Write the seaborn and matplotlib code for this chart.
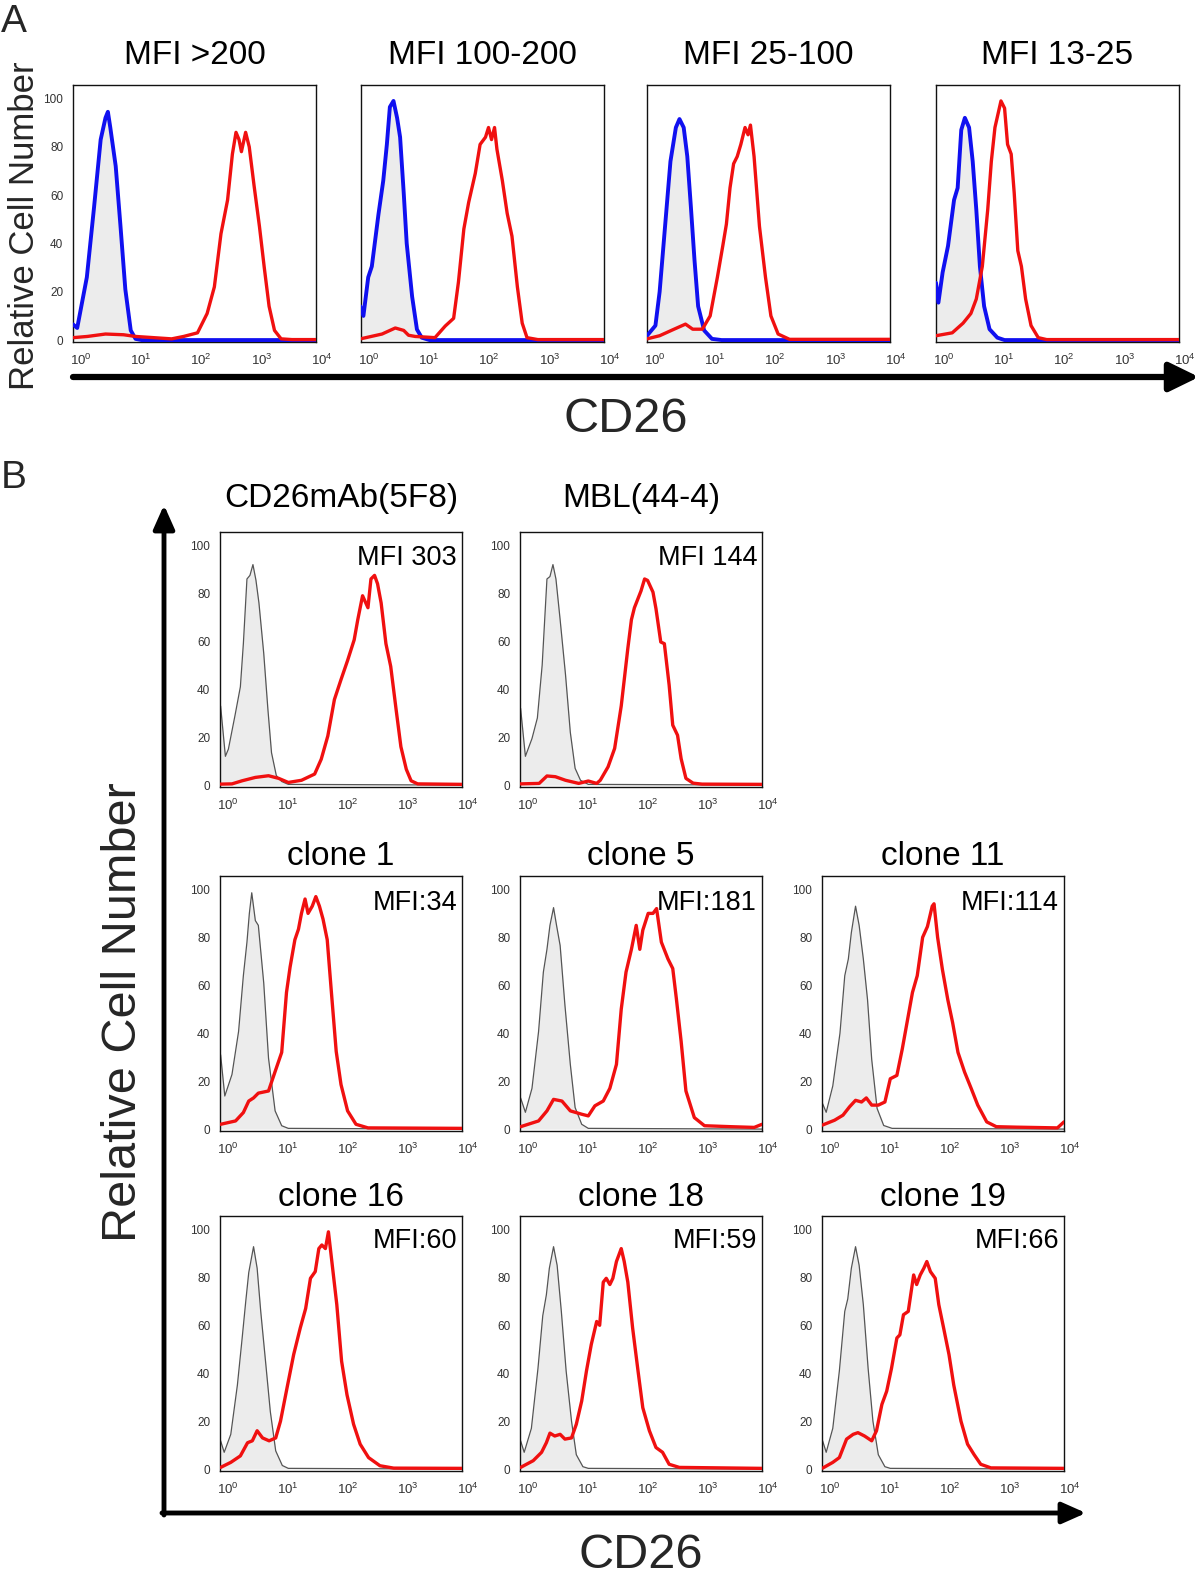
import numpy as np
import matplotlib
matplotlib.use("Agg")
import matplotlib.pyplot as plt
import seaborn as sns
from matplotlib.ticker import FixedLocator, LogLocator, NullFormatter, MultipleLocator
from matplotlib.transforms import ScaledTranslation

sns.set_theme(style="white")
plt.rcParams['font.family'] = ['Liberation Sans', 'DejaVu Sans']
plt.rcParams['mathtext.fontset'] = 'custom'
plt.rcParams['mathtext.rm'] = 'Liberation Sans'

# ---------------- Panel A data (x as log10 intensity) ----------------
a_titles = ["MFI >200", "MFI 100-200", "MFI 25-100", "MFI 13-25"]

a1_blue_lx = [-0.04, 0.03, 0.19, 0.31, 0.42, 0.50, 0.54, 0.58, 0.67, 0.75, 0.83, 0.92, 1.00, 1.10, 4.0]
a1_blue_y = [6.5, 5, 26, 55, 83, 92, 94.5, 88, 72, 47, 21, 4, 0.5, 0, 0]
a1_red_lx = [-0.04, 0.2, 0.5, 0.8, 1.0, 1.3, 1.6, 1.8, 2.03, 2.19, 2.31, 2.42, 2.53, 2.61, 2.67, 2.72, 2.76,
             2.83, 2.89, 2.97, 3.06, 3.14, 3.22, 3.31, 3.42, 3.6, 4.0]
a1_red_y = [1, 1.5, 2.5, 2.2, 1.5, 1, 0.5, 1.5, 3, 11, 22, 44, 58, 77, 86, 83, 78, 86, 80, 64, 47, 30, 14, 4,
            0.5, 0.2, 0.2]

a2_blue_lx = [-0.05, 0.0, 0.08, 0.14, 0.25, 0.33, 0.39, 0.44, 0.50, 0.56, 0.61, 0.67, 0.72, 0.81, 0.89, 0.97, 1.1, 4.0]
a2_blue_y = [14, 10, 26, 30.5, 52, 66, 81, 96.5, 99, 92, 84, 61, 40, 18, 4.4, 1, 0, 0]
a2_red_lx = [-0.05, 0.31, 0.53, 0.67, 0.75, 0.86, 1.19, 1.36, 1.5, 1.58, 1.67, 1.75, 1.86, 1.94, 2.03, 2.08, 2.13,
             2.18, 2.22, 2.31, 2.39, 2.47, 2.56, 2.64, 2.72, 2.9, 4.0]
a2_red_y = [0.5, 2.5, 5, 4, 2, 1.5, 1, 5.8, 9, 24, 46, 57, 69, 81, 84, 88, 83, 88, 79, 66, 52.5, 43, 22, 7, 1,
            0.2, 0.2]

a3_blue_lx = [-0.04, 0.1, 0.17, 0.26, 0.35, 0.44, 0.5, 0.57, 0.63, 0.69, 0.75, 0.81, 0.91, 1.04, 1.2, 4.0]
a3_blue_y = [1.8, 6, 20, 47, 74, 88, 91.5, 88, 76, 55, 33, 14, 4, 0.5, 0, 0]
a3_red_lx = [-0.04, 0.17, 0.41, 0.6, 0.72, 0.88, 1.01, 1.13, 1.22, 1.28, 1.34, 1.4, 1.46, 1.52, 1.59, 1.64, 1.68,
             1.74, 1.83, 1.93, 2.02, 2.14, 2.33, 4.0]
a3_red_y = [0.5, 1.8, 4.5, 6.6, 4.5, 4.5, 10, 26, 39, 48, 63, 73, 76, 81, 88, 85, 89, 76, 47, 26, 10, 2.5, 0.3, 0.3]

a4_blue_lx = [-0.04, 0.0, 0.07, 0.16, 0.26, 0.32, 0.38, 0.44, 0.51, 0.57, 0.63, 0.69, 0.76, 0.85, 0.98, 1.1, 4.0]
a4_blue_y = [23.7, 15.5, 28, 39, 58, 63, 87, 92, 88, 74, 54, 30.5, 14, 4.5, 1, 0, 0]
a4_red_lx = [-0.04, 0.23, 0.41, 0.54, 0.63, 0.73, 0.82, 0.88, 0.94, 1.04, 1.1, 1.15, 1.21, 1.26, 1.32, 1.38, 1.45,
             1.54, 1.66, 1.8, 4.0]
a4_red_y = [1.8, 3, 7, 11, 17, 30.5, 54, 74, 88, 99, 96, 81, 77, 61, 37, 30.5, 17, 6, 1, 0.2, 0.2]

# ---------------- Panel B data ----------------
b_titles = ["CD26mAb(5F8)", "MBL(44-4)", "clone 1", "clone 5", "clone 11", "clone 16", "clone 18", "clone 19"]
b_mfi = ["MFI 303", "MFI 144", "MFI:34", "MFI:181", "MFI:114", "MFI:60", "MFI:59", "MFI:66"]

b1_gray_lx = [-0.03, 0.05, 0.1, 0.21, 0.3, 0.35, 0.41, 0.46, 0.51, 0.56, 0.61, 0.69, 0.76, 0.82, 0.9, 0.99, 1.1, 4.0]
b1_gray_y = [33, 12, 15, 29, 41, 59, 86, 87.5, 92, 85.5, 76, 55, 31.5, 13.5, 4, 1.5, 0.3, 0]
b1_red_lx = [-0.03, 0.16, 0.33, 0.55, 0.77, 0.94, 1.1, 1.32, 1.54, 1.65, 1.76, 1.87, 1.98, 2.09, 2.2, 2.26, 2.34,
             2.43, 2.48, 2.54, 2.59, 2.65, 2.73, 2.81, 2.9, 2.98, 3.07, 3.15, 3.26, 4.0]
b1_red_y = [0.4, 0.5, 1.8, 3.2, 3.9, 2.8, 1.1, 2, 4.6, 10.8, 20.5, 35.7, 44, 52, 60.6, 69, 79, 74, 86, 87.5, 84,
            76, 59, 49.5, 31.5, 16, 6.6, 1.8, 0.5, 0.3]

b2_gray_lx = [-0.03, 0.05, 0.16, 0.25, 0.33, 0.41, 0.46, 0.51, 0.56, 0.63, 0.72, 0.8, 0.88, 0.97, 1.1, 4.0]
b2_gray_y = [32, 12, 19.4, 28, 50, 86, 87, 92, 86, 69, 46, 22, 7, 2, 0.3, 0]
b2_red_lx = [-0.03, 0.28, 0.41, 0.55, 0.72, 0.94, 1.1, 1.24, 1.3, 1.43, 1.54, 1.65, 1.76, 1.82, 1.87, 1.98, 2.04,
             2.09, 2.18, 2.23, 2.31, 2.37, 2.45, 2.51, 2.59, 2.65, 2.73, 2.85, 3.0, 4.0]
b2_red_y = [0.5, 0.7, 3.8, 3.5, 2, 0.7, 1.7, 0.7, 2, 7.6, 15.3, 33, 57, 69, 74, 81, 86, 85.4, 80.5, 73.6, 59.7,
            59, 41.7, 25, 20.8, 11, 2.8, 0.8, 0.4, 0.3]

c1_gray_lx = [-0.03, 0.04, 0.16, 0.27, 0.35, 0.41, 0.45, 0.49, 0.55, 0.6, 0.69, 0.77, 0.88, 0.99, 1.1, 4.0]
c1_gray_y = [31, 13.8, 22.8, 40.7, 64, 78, 90, 98.6, 87, 85, 61, 29.6, 7.6, 1.4, 0.3, 0]
c1_red_lx = [-0.03, 0.22, 0.35, 0.44, 0.52, 0.6, 0.77, 0.88, 0.99, 1.07, 1.13, 1.21, 1.27, 1.32, 1.38, 1.43, 1.5,
             1.56, 1.62, 1.68, 1.75, 1.82, 1.9, 1.98, 2.09, 2.23, 2.43, 4.0]
c1_red_y = [2, 3.4, 6.9, 11.7, 13, 15, 15.9, 24, 32, 57, 67.6, 79, 83.4, 90, 96, 90, 93, 97, 93, 87.6, 79, 57,
            32.4, 18.6, 7.6, 2, 0.5, 0.3]

c5_gray_lx = [-0.03, 0.05, 0.16, 0.27, 0.35, 0.41, 0.46, 0.52, 0.57, 0.63, 0.71, 0.8, 0.88, 0.99, 1.1, 4.0]
c5_gray_y = [13, 7, 17, 40.7, 65.5, 75, 85, 92.4, 85, 76.6, 51.7, 27, 9, 2, 0.3, 0]
c5_red_lx = [-0.03, 0.27, 0.41, 0.52, 0.66, 0.8, 0.99, 1.1, 1.21, 1.35, 1.46, 1.57, 1.65, 1.73, 1.82, 1.9, 1.96,
             2.01, 2.1, 2.18, 2.24, 2.32, 2.43, 2.51, 2.57, 2.65, 2.73, 2.87, 3.04, 3.48, 3.87, 4.0]
c5_red_y = [1, 3.4, 7.6, 12.4, 11.7, 7.6, 6.2, 5.5, 9.7, 11.7, 17, 27, 50, 65.5, 75, 85, 75, 83, 90, 90, 92, 78,
            71, 67, 54.5, 36.6, 15.9, 4.8, 1.4, 1, 0.7, 2]

c11_gray_lx = [-0.03, 0.03, 0.14, 0.26, 0.34, 0.4, 0.45, 0.52, 0.58, 0.65, 0.72, 0.79, 0.88, 0.99, 1.13, 4.0]
c11_gray_y = [10.6, 7, 18, 40, 64, 71, 82, 93, 85, 71, 54, 29, 8.6, 1.5, 0.3, 0]
c11_red_lx = [-0.03, 0.17, 0.31, 0.42, 0.52, 0.62, 0.7, 0.79, 0.9, 1.01, 1.1, 1.21, 1.3, 1.38, 1.47, 1.55, 1.64,
              1.72, 1.8, 1.83, 1.89, 1.97, 2.06, 2.14, 2.23, 2.34, 2.45, 2.56, 2.71, 2.87, 3.21, 3.89, 4.0]
c11_red_y = [1.7, 3.7, 5.8, 9.3, 12, 11.3, 13, 10, 10, 11.3, 21, 22.4, 33.4, 44.5, 57, 64, 80, 84.5, 93, 94, 80,
             66.6, 54, 44.5, 32, 23.8, 17, 10, 3, 1, 0.8, 0.5, 3]

c16_gray_lx = [-0.03, 0.03, 0.14, 0.25, 0.33, 0.39, 0.44, 0.52, 0.58, 0.64, 0.72, 0.8, 0.89, 1.0, 1.1, 4.0]
c16_gray_y = [11.8, 7, 14.5, 35, 54.7, 70, 82, 92.8, 83.8, 65.8, 45, 24, 7.6, 1.5, 0.3, 0]
c16_red_lx = [-0.03, 0.14, 0.3, 0.42, 0.5, 0.58, 0.67, 0.78, 0.89, 0.97, 1.08, 1.19, 1.3, 1.39, 1.47, 1.55, 1.61,
              1.66, 1.72, 1.77, 1.83, 1.91, 1.99, 2.08, 2.19, 2.3, 2.44, 2.63, 2.86, 4.0]
c16_red_y = [0.7, 2.8, 5.5, 11, 11.8, 16, 13, 11.8, 13, 20, 34, 47.8, 58.9, 67, 79.6, 82.4, 92, 93.5, 92, 99, 86,
             68.6, 45, 31, 18.7, 10.4, 4.8, 1.4, 0.4, 0.3]

c18_gray_lx = [-0.03, 0.03, 0.15, 0.26, 0.34, 0.4, 0.45, 0.52, 0.58, 0.65, 0.73, 0.82, 0.9, 1.01, 1.1, 4.0]
c18_gray_y = [11.8, 7, 17, 42, 64, 72.7, 83.8, 92.8, 85, 65.8, 41, 20, 6, 1, 0.3, 0]
c18_red_lx = [-0.03, 0.18, 0.32, 0.4, 0.46, 0.54, 0.63, 0.71, 0.82, 0.9, 0.99, 1.07, 1.15, 1.24, 1.29, 1.35, 1.4,
              1.46, 1.51, 1.57, 1.65, 1.7, 1.76, 1.84, 1.93, 2.01, 2.12, 2.23, 2.34, 2.45, 2.62, 4.0]
c18_red_y = [0.7, 3.5, 7, 11, 15, 13.8, 14.5, 12.5, 13, 18.7, 28.4, 41, 52, 61.6, 60, 78, 79.6, 77, 79.6, 86.6,
             92, 86.6, 78, 58.9, 41, 25.6, 16, 9, 7, 2, 0.7, 0.3]

c19_gray_lx = [-0.03, 0.03, 0.14, 0.25, 0.34, 0.39, 0.45, 0.52, 0.58, 0.65, 0.73, 0.81, 0.9, 1.01, 1.1, 4.0]
c19_gray_y = [11.8, 7, 17, 41, 65.8, 71, 83.8, 92.8, 85, 68.6, 42, 20, 6, 1, 0.3, 0]
c19_red_lx = [-0.03, 0.14, 0.25, 0.37, 0.48, 0.56, 0.67, 0.79, 0.87, 0.96, 1.04, 1.12, 1.21, 1.26, 1.32, 1.4,
              1.49, 1.54, 1.6, 1.66, 1.71, 1.77, 1.85, 1.91, 1.99, 2.08, 2.16, 2.28, 2.39, 2.5, 2.61, 2.78, 4.0]
c19_red_y = [0.4, 2.8, 4.8, 12.5, 14.5, 15.2, 13.8, 11.8, 16, 27, 32.5, 42, 54.7, 56, 64.4, 65.8, 81, 77, 81,
             83.8, 86.6, 82.4, 79.6, 68.6, 58.9, 47.8, 35, 20, 10.4, 6, 2, 0.5, 0.3]

# ---------------- figure ----------------
W, H = 1200, 1579
fig = plt.figure(figsize=(W / 100, H / 100), dpi=100)
fig.patch.set_facecolor("white")

BLUE = "#1010f0"
RED = "#f01010"
FILL = "#ececec"


def add_ax(left, top, w, h):
    return fig.add_axes([left / W, 1 - (top + h) / H, w / W, h / H])


def style_ax(ax, ylabels=True):
    ax.set_xscale("log")
    ax.set_xlim(10 ** -0.04, 1e4)
    ax.set_ylim(-0.8, 105.6)
    ax.xaxis.set_major_locator(FixedLocator([1, 10, 100, 1000, 10000]))
    ax.xaxis.set_minor_locator(LogLocator(base=10, subs=np.arange(2, 10), numticks=20))
    ax.xaxis.set_minor_formatter(NullFormatter())
    ax.yaxis.set_major_locator(FixedLocator([0, 20, 40, 60, 80, 100]))
    ax.yaxis.set_minor_locator(MultipleLocator(4))
    ax.set_xlabel("")
    ax.set_ylabel("")
    ax.tick_params(axis="both", which="major", direction="out", length=5, width=0.9,
                   colors="#333333", labelsize=8, pad=2)
    ax.tick_params(axis="both", which="minor", direction="out", length=2.5, width=0.7, colors="#333333")
    ax.tick_params(axis="x", labelsize=9.5, pad=3)
    ax.tick_params(axis="y", labelsize=8.5, labelleft=ylabels)
    for s in ax.spines.values():
        s.set_visible(True)
        s.set_color("#111111")
        s.set_linewidth(1.0)
    ax.set_facecolor("white")
    ax.grid(False)
    off = ScaledTranslation(4 / 72, 0, fig.dpi_scale_trans)
    for lab in ax.get_xticklabels():
        lab.set_transform(lab.get_transform() + off)


def draw_curve(ax, lx, y, color, lw, z):
    sns.lineplot(x=10 ** np.asarray(lx, float), y=y, ax=ax, color=color, linewidth=lw,
                 estimator=None, sort=False, legend=False, zorder=z)


# Panel A
a_lefts = [73, 361, 647, 936]
a_top, a_w, a_h = 85, 243, 257
a_data = [(a1_blue_lx, a1_blue_y, a1_red_lx, a1_red_y),
          (a2_blue_lx, a2_blue_y, a2_red_lx, a2_red_y),
          (a3_blue_lx, a3_blue_y, a3_red_lx, a3_red_y),
          (a4_blue_lx, a4_blue_y, a4_red_lx, a4_red_y)]
for i, (bl, by, rl, ry) in enumerate(a_data):
    ax = add_ax(a_lefts[i], a_top, a_w, a_h)
    ax.fill_between(10 ** np.asarray(bl, float), by, 0, color=FILL, zorder=1, linewidth=0)
    draw_curve(ax, bl, by, BLUE, 2.8, 3)
    draw_curve(ax, rl, ry, RED, 2.4, 4)
    style_ax(ax, ylabels=(i == 0))
    ax.text(0.5, 1 + 30 / a_h, a_titles[i], transform=ax.transAxes, ha="center", va="center",
            fontsize=24, color="black")

# Panel B
b_cols = [220, 520, 822]
b_rows = [532, 876, 1216]
b_w, b_h = 242, 255
b_pos = [(0, 0), (0, 1), (1, 0), (1, 1), (1, 2), (2, 0), (2, 1), (2, 2)]
b_data = [(b1_gray_lx, b1_gray_y, b1_red_lx, b1_red_y),
          (b2_gray_lx, b2_gray_y, b2_red_lx, b2_red_y),
          (c1_gray_lx, c1_gray_y, c1_red_lx, c1_red_y),
          (c5_gray_lx, c5_gray_y, c5_red_lx, c5_red_y),
          (c11_gray_lx, c11_gray_y, c11_red_lx, c11_red_y),
          (c16_gray_lx, c16_gray_y, c16_red_lx, c16_red_y),
          (c18_gray_lx, c18_gray_y, c18_red_lx, c18_red_y),
          (c19_gray_lx, c19_gray_y, c19_red_lx, c19_red_y)]
title_gap = [34, 20, 18]
mfi_gap = [26, 27, 25]
for k, (r, c) in enumerate(b_pos):
    gl, gy, rl, ry = b_data[k]
    ax = add_ax(b_cols[c], b_rows[r], b_w, b_h)
    ax.fill_between(10 ** np.asarray(gl, float), gy, 0, color=FILL, zorder=1, linewidth=0)
    draw_curve(ax, gl, gy, "#555555", 0.9, 2)
    draw_curve(ax, rl, ry, RED, 2.4, 4)
    style_ax(ax, ylabels=True)
    ax.text(0.5, 1 + title_gap[r] / b_h, b_titles[k], transform=ax.transAxes, ha="center",
            va="center", fontsize=24, color="black")
    ax.text(1 - 5 / b_w, 1 - mfi_gap[r] / b_h, b_mfi[k], transform=ax.transAxes, ha="right",
            va="center", fontsize=19.5, color="black", zorder=6)

# overlay for labels and arrows (pixel coordinates)
ov = fig.add_axes([0, 0, 1, 1], zorder=-1)
ov.set_xlim(0, W)
ov.set_ylim(H, 0)
ov.axis("off")

ov.text(1, 22, "A", fontsize=28, ha="left", va="center")
ov.text(1, 478, "B", fontsize=28, ha="left", va="center")
ov.text(25, 226, "Relative Cell Number", rotation=90, fontsize=25, ha="center", va="center")
ov.text(124, 1012, "Relative Cell Number", rotation=90, fontsize=35, ha="center", va="center")
ov.text(626, 419, "CD26", fontsize=35, ha="center", va="center")
ov.text(641, 1556, "CD26", fontsize=35, ha="center", va="center")

ov.annotate("", xy=(1199, 377), xytext=(73, 377),
            arrowprops=dict(arrowstyle="-|>,head_length=0.45,head_width=0.22", lw=4.5,
                            color="black", mutation_scale=40, shrinkA=0, shrinkB=0))
ov.annotate("", xy=(164, 505), xytext=(164, 1515),
            arrowprops=dict(arrowstyle="-|>,head_length=0.45,head_width=0.2", lw=3.5,
                            color="black", mutation_scale=32, shrinkA=0, shrinkB=0))
ov.annotate("", xy=(1086, 1513), xytext=(162, 1513),
            arrowprops=dict(arrowstyle="-|>,head_length=0.45,head_width=0.2", lw=3.5,
                            color="black", mutation_scale=32, shrinkA=0, shrinkB=0))

fig.savefig("out.png", dpi=100, facecolor="white")
